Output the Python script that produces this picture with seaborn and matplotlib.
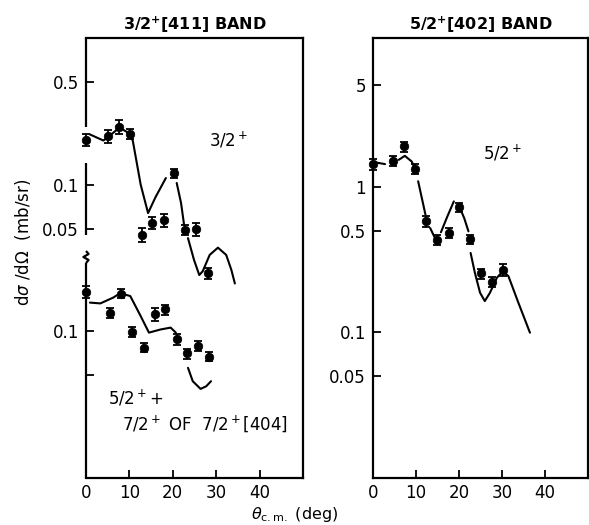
import numpy as np
import pandas as pd
import matplotlib
matplotlib.use("Agg")
import matplotlib.pyplot as plt
import seaborn as sns

# ---------------- measured cross sections (mb/sr) ----------------
# 3/2+[411] band, 3/2+ member
ang_32 = [0.0, 5.0, 7.7, 10.2, 12.9, 15.3, 17.9, 20.2, 22.8, 25.3, 28.1]
xs_32 = [0.203, 0.214, 0.247, 0.223, 0.0454, 0.0552, 0.0576, 0.120, 0.0492, 0.0497, 0.0249]
rel_err_32 = [0.09, 0.10, 0.11, 0.08, 0.11, 0.09, 0.10, 0.07, 0.08, 0.10, 0.09]

# 5/2+ + 7/2+ of 7/2+[404]
ang_57 = [0.0, 5.6, 8.1, 10.6, 13.3, 15.8, 18.2, 20.9, 23.3, 25.9, 28.4]
xs_57 = [0.186, 0.133, 0.181, 0.099, 0.0773, 0.131, 0.141, 0.0882, 0.0707, 0.080, 0.0671]
rel_err_57 = [0.09, 0.08, 0.07, 0.08, 0.07, 0.10, 0.08, 0.08, 0.08, 0.08, 0.07]

# 5/2+[402] band, 5/2+ member
ang_52 = [0.0, 4.6, 7.2, 9.8, 12.3, 14.9, 17.6, 20.1, 22.6, 25.0, 27.7, 30.2]
xs_52 = [1.43, 1.51, 1.89, 1.32, 0.579, 0.434, 0.482, 0.726, 0.438, 0.254, 0.221, 0.270]
rel_err_52 = [0.09, 0.08, 0.08, 0.08, 0.09, 0.08, 0.08, 0.07, 0.07, 0.08, 0.08, 0.09]

# ---------------- calculated curves (segments) ----------------
th_32_ang = [[0.9, 4.0, 5.0, 7.7, 10.2, 10.8, 12.6, 14.3, 16.0, 18.4],
             [20.9, 21.9, 22.6],
             [23.5, 24.9, 26.1, 26.9, 28.5, 30.4, 32.3, 33.5, 34.3]]
th_32_xs = [[0.220, 0.200, 0.210, 0.245, 0.222, 0.198, 0.100, 0.064, 0.082, 0.111],
            [0.1027, 0.075, 0.0532],
            [0.0432, 0.0306, 0.0242, 0.0257, 0.0332, 0.0372, 0.0332, 0.0262, 0.0212]]

th_57_ang = [[0.9, 3.3, 6.3, 7.9, 10.2, 12.6, 14.5, 17.2, 19.5, 20.7],
             [23.5, 24.6, 26.4, 27.7, 28.8]]
th_57_xs = [[0.157, 0.155, 0.170, 0.182, 0.174, 0.127, 0.098, 0.103, 0.106, 0.098],
            [0.0564, 0.0457, 0.0405, 0.0422, 0.0457]]

th_52_ang = [[0.5, 2.8],
             [6.0, 7.4, 9.0, 9.5],
             [10.5, 12.2],
             [13.3, 14.4],
             [15.8, 17.3, 18.8],
             [20.2, 21.2, 22.2],
             [22.7, 23.7, 24.9, 26.0, 27.2, 28.8, 30.2, 31.5, 33.8, 36.5]]
th_52_xs = [[1.47, 1.43],
            [1.53, 1.63, 1.49, 1.38],
            [1.09, 0.643],
            [0.52, 0.445],
            [0.487, 0.626, 0.793],
            [0.715, 0.61, 0.494],
            [0.351, 0.256, 0.187, 0.164, 0.187, 0.237, 0.263, 0.243, 0.16, 0.0995]]

# lower group in the left panel is displaced by one decade
LOWER_SHIFT = 0.1

left_ticks_upper = [0.5, 0.1, 0.05]
left_ticks_lower = [0.1, 0.05]
right_ticks = [5, 1, 0.5, 0.1, 0.05]
x_ticks = [0, 10, 20, 30, 40]


def curve_frame(angs, vals, scale=1.0):
    rows = []
    for k, (a_seg, v_seg) in enumerate(zip(angs, vals)):
        for a, v in zip(a_seg, v_seg):
            rows.append({"angle": a, "xs": v * scale, "seg": k})
    return pd.DataFrame(rows)


def fmt(v):
    return f"{v:g}"


sns.set_theme(style="ticks")
plt.rcParams["font.family"] = ["DejaVu Sans"]
plt.rcParams["mathtext.fontset"] = "dejavusans"
plt.rcParams["text.color"] = "black"
plt.rcParams["axes.labelcolor"] = "black"
plt.rcParams["xtick.color"] = "black"
plt.rcParams["ytick.color"] = "black"

W, H = 589, 525
fig = plt.figure(figsize=(W / 100, H / 100), dpi=100)
fig.patch.set_facecolor("white")

ax_l = fig.add_axes([86 / W, 47 / H, 217 / W, 440 / H])
ax_r = fig.add_axes([373 / W, 47 / H, 215 / W, 440 / H])

lw_curve = 1.5


def draw_points(ax, ang, xs, rel, scale=1.0):
    y = np.asarray(xs) * scale
    e = y * np.asarray(rel)
    eb = ax.errorbar(ang, y, yerr=e, fmt="none", ecolor="black", elinewidth=1.3,
                     capsize=3, capthick=1.3, zorder=3)
    for part in eb.get_children():
        part.set_clip_on(False)
    sns.scatterplot(x=ang, y=y, ax=ax, color="black", s=38, edgecolor="black",
                    linewidth=0.5, zorder=4, legend=False, clip_on=False)


def draw_curve(ax, angs, vals, scale=1.0):
    df = curve_frame(angs, vals, scale)
    sns.lineplot(data=df, x="angle", y="xs", units="seg", estimator=None,
                 sort=False, color="black", linewidth=lw_curve, ax=ax,
                 legend=False, zorder=2)


# ---- left panel ----
ax_l.set_yscale("log")
draw_curve(ax_l, th_32_ang, th_32_xs)
draw_curve(ax_l, th_57_ang, th_57_xs, LOWER_SHIFT)
draw_points(ax_l, ang_32, xs_32, rel_err_32)
draw_points(ax_l, ang_57, xs_57, rel_err_57, LOWER_SHIFT)
ax_l.set_ylim(0.001, 1.0)
yt = left_ticks_upper + [v * LOWER_SHIFT for v in left_ticks_lower]
ylab = [fmt(v) for v in left_ticks_upper] + [fmt(left_ticks_lower[0]), ""]
ax_l.set_yticks(yt)
ax_l.set_yticklabels(ylab)

ax_l.set_title(r"3/2$^{\mathbf{+}}$[411] BAND", fontsize=11.5,
               fontweight="bold", pad=6, color="black")
ax_l.text(28.3, 0.2, r"3/2$^+$", fontsize=12, va="center", ha="left")
ax_l.text(5.0, 0.00353, r"5/2$^+$+", fontsize=12, va="center", ha="left")
ax_l.text(8.4, 0.00234, r"7/2$^+$ OF  7/2$^+$[404]", fontsize=12,
          va="center", ha="left")

# ---- right panel ----
ax_r.set_yscale("log")
draw_curve(ax_r, th_52_ang, th_52_xs)
draw_points(ax_r, ang_52, xs_52, rel_err_52)
ax_r.set_ylim(0.01, 10.5)
ax_r.set_yticks(right_ticks)
ax_r.set_yticklabels([fmt(v) for v in right_ticks])
ax_r.set_title(r"5/2$^{\mathbf{+}}$[402] BAND", fontsize=11.5,
               fontweight="bold", pad=6, color="black")
ax_r.text(25.6, 1.71, r"5/2$^+$", fontsize=12, va="center", ha="left")

# common frame and tick styling
for ax in (ax_l, ax_r):
    ax.set_xlim(0, 50)
    ax.set_xticks(x_ticks)
    ax.set_xticklabels([str(t) for t in x_ticks])
    ax.minorticks_off()
    ax.set_xlabel("")
    ax.set_ylabel("")
    ax.set_facecolor("white")
    for s in ax.spines.values():
        s.set_visible(True)
        s.set_linewidth(1.6)
        s.set_color("black")
    ax.tick_params(axis="both", which="major", direction="in", length=6,
                   width=1.3, labelsize=12, color="black", labelcolor="black",
                   bottom=True, left=True, top=False, right=False)
    ax.tick_params(axis="x", pad=4)
    ax.tick_params(axis="y", pad=5)

# broken left axis line of the left panel
ax_l.spines["left"].set_visible(False)
frac = lambda py: (478 - py) / 440
spine_kw = dict(transform=ax_l.transAxes, color="black", lw=1.6,
                clip_on=False, solid_capstyle="butt")
ax_l.plot([0, 0], [1, frac(127)], **spine_kw)
ax_l.plot([0, 0], [frac(163), frac(235)], **spine_kw)
ax_l.plot([0, 0.012, -0.012, 0.012, 0], [frac(251), frac(254), frac(257),
                                           frac(260), frac(263)], **spine_kw)
ax_l.plot([0, 0], [frac(263), 0], **spine_kw)

# shared axis titles
fig.text(23 / W, 1 - 242 / H, r"d$\sigma$ /d$\Omega$  (mb/sr)", rotation=90,
         fontsize=12, ha="center", va="center")
fig.text(295 / W, 1 - 519 / H, r"$\theta_{\rm c.m.}$ (deg)", fontsize=11.5,
         ha="center", va="baseline")

fig.savefig("out.png", dpi=100, facecolor="white")
